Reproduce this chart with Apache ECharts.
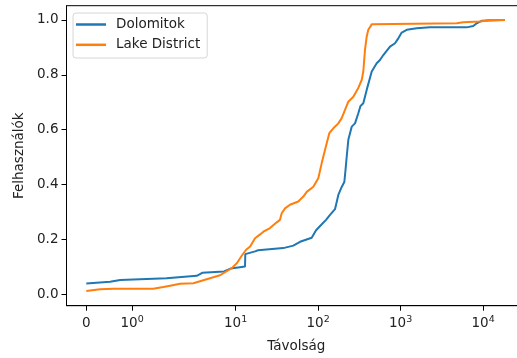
<!DOCTYPE html>
<html>
<head>
<meta charset="utf-8">
<script src="https://cdn.jsdelivr.net/npm/echarts@6/dist/echarts.min.js"></script>
<style>html,body{margin:0;padding:0;background:#fff}#c{width:517px;height:358px}</style>
</head>
<body>
<div id="c"></div>
<script>
// ---- data ----
const dolomitokDist = [0, 0.52, 0.74, 1.75, 3.38, 3.94, 7.23, 8.8, 13.0, 13.1, 17.2, 18.7, 37.8, 50.0, 60.4, 83.6, 94.4, 111.5, 124.7, 139.4, 160.2, 175.8, 193.2, 207.8, 214.9, 222.2, 232.4, 255.4, 280, 307, 326.3, 353, 388, 446.4, 513, 562, 617, 744, 855, 938, 1031, 1186, 1567, 2271, 6324, 7600, 8360, 9610, 18400];
const dolomitokShare = [0.039, 0.045, 0.052, 0.058, 0.067, 0.078, 0.083, 0.094, 0.101, 0.146, 0.156, 0.160, 0.168, 0.177, 0.191, 0.206, 0.233, 0.256, 0.271, 0.289, 0.310, 0.362, 0.391, 0.409, 0.453, 0.502, 0.563, 0.611, 0.623, 0.660, 0.686, 0.696, 0.745, 0.812, 0.842, 0.854, 0.872, 0.903, 0.915, 0.933, 0.954, 0.964, 0.970, 0.973, 0.973, 0.978, 0.988, 0.997, 1.0];
const lakeDist = [0, 0.30, 0.59, 1.46, 1.68, 1.83, 2.12, 3.07, 4.06, 6.47, 8.97, 10.4, 11.9, 13.4, 15.0, 17.2, 19.8, 21.7, 26.1, 31.5, 34.5, 36.2, 39.7, 45.6, 57.5, 66.2, 72.8, 87.5, 100.5, 110.6, 115.7, 127.1, 136.7, 152.9, 175.8, 193.2, 211.8, 232.4, 267.2, 307, 337.5, 353, 370, 388, 405.7, 446.4, 4786, 5754, 9160, 10540, 11560, 18400];
const lakeShare = [0.012, 0.018, 0.020, 0.020, 0.026, 0.031, 0.038, 0.040, 0.051, 0.069, 0.095, 0.114, 0.141, 0.162, 0.174, 0.204, 0.218, 0.228, 0.241, 0.262, 0.271, 0.295, 0.313, 0.326, 0.338, 0.356, 0.373, 0.392, 0.423, 0.478, 0.502, 0.550, 0.587, 0.605, 0.623, 0.642, 0.672, 0.702, 0.720, 0.752, 0.781, 0.812, 0.891, 0.939, 0.964, 0.984, 0.988, 0.992, 0.994, 0.997, 1.0, 1.0];
const seriesNames = ['Dolomitok', 'Lake District'];
const xTickValues = [0, 1, 10, 100, 1000, 10000];
const xTickBase = ['0', '10', '10', '10', '10', '10'];
const xTickExp = ['', '0', '1', '2', '3', '4'];
const yTickValues = [0, 0.2, 0.4, 0.6, 0.8, 1.0];
const xAxisTitle = 'Távolság';
const yAxisTitle = 'Felhasználók';

// ---- symlog scale (linthresh 2, linscale 1, base 10) ----
const LINTHRESH = 2;
const LINSCALE_ADJ = 1 / (1 - 1 / 10);
function symlog(x) {
  const a = Math.abs(x);
  const y = a <= LINTHRESH ? a / LINTHRESH * LINSCALE_ADJ : LINSCALE_ADJ + Math.log10(a / LINTHRESH);
  return Math.sign(x) * y;
}
const xTickPos = xTickValues.map(symlog);

function pairs(xs, ys) { return xs.map((x, i) => [symlog(x), ys[i]]); }

const FONT = 'DejaVu Sans';
const FS = 13.5;
const TXT = '#222';

const chart = echarts.init(document.getElementById('c'), null, {renderer: 'canvas'});
chart.setOption({
  animation: false,
  backgroundColor: '#fff',
  textStyle: {fontFamily: FONT},
  grid: {left: 66.5, top: 5.7, width: 459.5, height: 300, containLabel: false,
         outerBoundsMode: 'none',
         show: true, borderColor: '#000', borderWidth: 1, backgroundColor: 'transparent'},
  legend: {
    left: 73, top: 13,
    orient: 'vertical',
    data: seriesNames,
    icon: 'rect',
    itemWidth: 30, itemHeight: 2.5, itemGap: 5.3,
    padding: [4, 7, 5.7, 3],
    backgroundColor: '#fff',
    borderColor: '#d6d6d6', borderWidth: 1, borderRadius: 3,
    textStyle: {fontFamily: FONT, fontSize: FS, color: TXT, padding: [0, 0, 0, 5], lineHeight: 15}
  },
  xAxis: {
    type: 'value',
    min: -0.24, max: 5.33,
    name: xAxisTitle, nameLocation: 'middle', nameGap: 34,
    nameTextStyle: {fontFamily: FONT, fontSize: FS, color: TXT},
    axisLine: {show: true, onZero: false, lineStyle: {color: '#000', width: 1}},
    axisTick: {show: true, length: 5, customValues: xTickPos, lineStyle: {color: '#000', width: 1}},
    splitLine: {show: false},
    axisLabel: {
      customValues: xTickPos,
      margin: 9,
      color: TXT,
      formatter: function (v) {
        let idx = 0, best = Infinity;
        xTickPos.forEach((p, i) => { const d = Math.abs(p - v); if (d < best) { best = d; idx = i; } });
        return xTickExp[idx] ? '{b|' + xTickBase[idx] + '}{s|' + xTickExp[idx] + '}' : '{b|' + xTickBase[idx] + '}';
      },
      rich: {
        b: {fontFamily: FONT, fontSize: FS, color: TXT, lineHeight: 17},
        s: {fontFamily: FONT, fontSize: 9.5, color: TXT, lineHeight: 11, verticalAlign: 'top'}
      }
    }
  },
  yAxis: {
    type: 'value',
    min: -0.042, max: 1.052,
    name: yAxisTitle, nameLocation: 'middle', nameGap: 35, nameRotate: 90,
    nameTextStyle: {fontFamily: FONT, fontSize: FS, color: TXT},
    axisLine: {show: true, onZero: false, lineStyle: {color: '#000', width: 1}},
    axisTick: {show: true, length: 5, customValues: yTickValues, lineStyle: {color: '#000', width: 1}},
    splitLine: {show: false},
    axisLabel: {
      customValues: yTickValues,
      margin: 8,
      fontFamily: FONT, fontSize: FS, color: TXT,
      formatter: v => v.toFixed(1)
    }
  },
  series: [
    {name: seriesNames[0], type: 'line', data: pairs(dolomitokDist, dolomitokShare), symbol: 'none', showSymbol: false,
     lineStyle: {color: '#1f77b4', width: 2}, itemStyle: {color: '#1f77b4'}, z: 2},
    {name: seriesNames[1], type: 'line', data: pairs(lakeDist, lakeShare), symbol: 'none', showSymbol: false,
     lineStyle: {color: '#ff7f0e', width: 2}, itemStyle: {color: '#ff7f0e'}, z: 3}
  ]
});
</script>
</body>
</html>
